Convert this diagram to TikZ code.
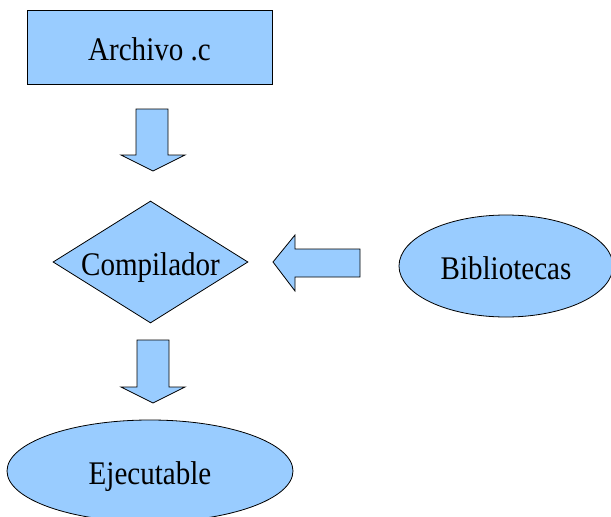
\documentclass[tikz,border=0pt]{standalone}
\usepackage{fontspec}
\setmainfont{Liberation Serif}[FakeStretch=0.88]
\usetikzlibrary{shapes.geometric}
\definecolor{azul}{RGB}{153,204,255}

\begin{document}
\begin{tikzpicture}[x=1pt,y=-1pt,
    every node/.style={font=\fontsize{33}{38}\selectfont, inner sep=0pt,
      text height=26pt, text depth=0pt},
    bloque/.style={draw, fill=azul, line width=0.8pt},
    flecha/.style={draw, fill=azul, line width=0.8pt, line join=miter}
  ]
  \useasboundingbox (0,0) rectangle (611,517);

  \node[bloque, rectangle, minimum width=245pt, minimum height=74pt] (archivo) at (149.5,47) {Archivo .c};
  \node[bloque, diamond, aspect=1.6, minimum width=195pt, minimum height=122pt] (comp) at (150.5,262) {Compilador};
  \node[bloque, ellipse, minimum width=214pt, minimum height=102pt] (biblio) at (506,266) {Bibliotecas};
  \node[bloque, ellipse, minimum width=286pt, minimum height=102pt] (ejec) at (150,471) {Ejecutable};

  % flechas gruesas
  \draw[flecha] (136,109) -- (168,109) -- (168,155) -- (185,155) -- (153,171)
    -- (121,155) -- (136,155) -- cycle;
  \draw[flecha] (137,340) -- (169,340) -- (169,387) -- (185,387) -- (153,403)
    -- (121,387) -- (137,387) -- cycle;
  \draw[flecha] (360,249) -- (295,249) -- (295,235) -- (273,262) -- (295,291)
    -- (295,277) -- (360,277) -- cycle;
\end{tikzpicture}
\end{document}
